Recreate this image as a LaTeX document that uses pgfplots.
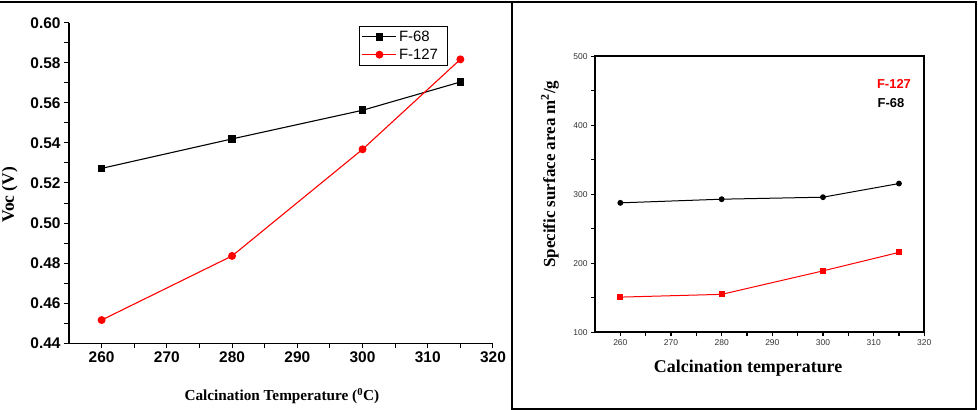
\documentclass[border=0pt]{standalone}
\usepackage{pgfplots}
\pgfplotsset{compat=1.18}
\usepackage{fontspec}
\setmainfont{Liberation Serif}
\setsansfont{Liberation Sans}

\pgfplotstableread{
T    voc68   voc127
260  0.5273  0.4516
280  0.5420  0.4836
300  0.5563  0.5368
315  0.5704  0.5817
}\voctable

\pgfplotstableread{
T    s68    s127
260  287.6  151.0
280  292.9  155.0
300  295.8  189.0
315  315.6  215.8
}\areatable

\begin{document}
\begin{tikzpicture}
\path[use as bounding box] (0bp,0bp) rectangle (978bp,410bp);

% frame lines
\draw[line width=2bp] (0bp,408bp) -- (977bp,408bp);
\draw[line width=2bp] (512bp,408bp) -- (512bp,1.3bp) -- (976bp,1.3bp) -- (976bp,408bp);

% Voc versus calcination temperature
\begin{axis}[
  at={(69bp,66.7bp)}, anchor=south west,
  scale only axis, width=424bp, height=320.6bp,
  xmin=255, xmax=320, ymin=0.44, ymax=0.60,
  axis x line*=bottom, axis y line*=left,
  axis line style={line width=1.3bp},
  tick align=outside,
  major tick length=5bp, minor tick length=5bp,
  tick style={line width=1bp, black},
  xtick={260,270,...,320}, minor x tick num=1,
  ytick={0.44,0.46,...,0.601}, minor y tick num=1,
  scaled y ticks=false,
  yticklabel style={/pgf/number format/fixed, /pgf/number format/fixed zerofill, /pgf/number format/precision=2},
  ticklabel style={font=\fontsize{15.5}{17}\selectfont\sffamily\bfseries},
  /pgf/number format/assume math mode=true,
  xlabel={Calcination Temperature (\textsuperscript{0}C)},
  ylabel={Voc (V)},
  xlabel style={font=\fontsize{15.3}{17}\selectfont\bfseries, at={(axis description cs:0.502,-0.164)}, anchor=center},
  ylabel style={font=\fontsize{17.5}{19}\selectfont\bfseries, at={(axis description cs:-0.140,0.463)}, anchor=center},
  legend style={at={(0.684,0.99)}, anchor=north west, draw=black, line width=0.8bp,
    font=\fontsize{15}{16}\selectfont\sffamily, inner sep=2.5bp, row sep=2bp,
    nodes={text width=44bp}},
  legend image code/.code={%
    \draw[mark repeat=2, mark phase=2] plot coordinates {(0bp,0bp) (17bp,0bp) (34bp,0bp)};},
  legend cell align=left,
  clip=false,
]
\addplot[black, line width=1.1bp, mark=square*, mark size=3.3bp, mark options={solid}] table[x=T, y=voc68] {\voctable};
\addlegendentry{F-68}
\addplot[red, line width=1.1bp, mark=*, mark size=3.4bp, mark options={solid}] table[x=T, y=voc127] {\voctable};
\addlegendentry{F-127}
\end{axis}

% specific surface area versus calcination temperature
\begin{axis}[
  at={(595bp,77.7bp)}, anchor=south west,
  scale only axis, width=329.3bp, height=276bp,
  xmin=255, xmax=320, ymin=100, ymax=500,
  axis line style={line width=1.8bp},
  tick align=outside, xtick pos=left, ytick pos=left,
  major tick length=4bp, minor tick length=4bp,
  tick style={line width=1.2bp, black},
  xtick={260,270,...,320}, minor x tick num=1,
  ytick={100,200,...,500}, minor y tick num=1,
  ticklabel style={font=\fontsize{8.5}{9}\selectfont\sffamily, text=black!80},
  /pgf/number format/assume math mode=true,
  xlabel={Calcination temperature},
  ylabel={Specific surface area m\textsuperscript{2}/g},
  xlabel style={font=\fontsize{18}{20}\selectfont\bfseries, at={(axis description cs:0.465,-0.129)}, anchor=center},
  ylabel style={font=\fontsize{17}{19}\selectfont\bfseries, at={(axis description cs:-0.137,0.573)}, anchor=center},
  clip=false,
]
\addplot[black, line width=1bp, mark=*, mark size=2.4bp] table[x=T, y=s68] {\areatable};
\addplot[red, line width=1bp, mark=square*, mark size=2.4bp] table[x=T, y=s127] {\areatable};
\node[anchor=east, text=red, font=\fontsize{13}{15}\selectfont\sffamily\bfseries] at (rel axis cs:0.97,0.9) {F-127};
\node[anchor=east, text=black, font=\fontsize{13}{15}\selectfont\sffamily\bfseries] at (rel axis cs:0.95,0.83) {F-68};
\end{axis}
\end{tikzpicture}
\end{document}
